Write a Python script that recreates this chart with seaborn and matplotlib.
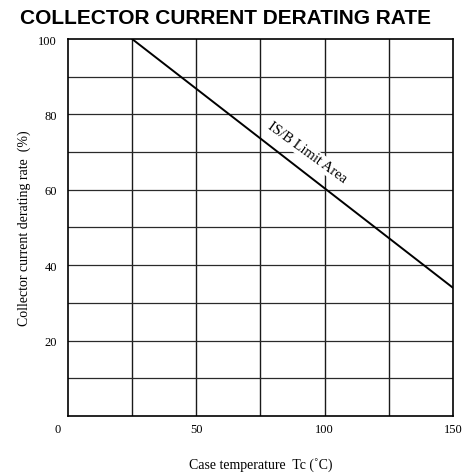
import matplotlib
matplotlib.use("Agg")
import matplotlib.pyplot as plt
import matplotlib.transforms as mtransforms
import seaborn as sns
import pandas as pd

temps = [25, 150]
rates = [100, 34]
x_ticks = [0, 50, 100, 150]
y_ticks = [20, 40, 60, 80, 100]

sns.set_theme(style="white")
plt.rcParams['font.family'] = ['Liberation Serif', 'DejaVu Serif']
plt.rcParams['text.color'] = 'black'
plt.rcParams['axes.labelcolor'] = 'black'
plt.rcParams['xtick.color'] = 'black'
plt.rcParams['ytick.color'] = 'black'

df = pd.DataFrame({"Tc": temps, "rate": rates})

fig = plt.figure(figsize=(4.66, 4.77), dpi=100)
ax = fig.add_axes([0.146, 0.126, 0.826, 0.790])

for gx in range(25, 150, 25):
    ax.axvline(gx, color="#1a1a1a", lw=1.0, zorder=1)
for gy in range(10, 100, 10):
    ax.axhline(gy, color="#2a2a2a", lw=0.9, zorder=1)

sns.lineplot(data=df, x="Tc", y="rate", ax=ax, color="black", lw=1.4, zorder=3)

ax.set_xlim(0, 150)
ax.set_ylim(0, 100)
ax.set_xticks(x_ticks)
ax.set_yticks(y_ticks)
ax.set_xticklabels([str(v) for v in x_ticks], fontsize=9)
ax.set_yticklabels([str(v) for v in y_ticks], fontsize=9)
ax.tick_params(axis="x", length=0, pad=5)
ax.tick_params(axis="y", length=0, pad=8)
lbl0 = ax.get_xticklabels()[0]
lbl0.set_transform(lbl0.get_transform() + mtransforms.ScaledTranslation(-10/100, 0, fig.dpi_scale_trans))
for s in ax.spines.values():
    s.set_color("black")
    s.set_linewidth(1.2)

ax.set_xlabel("Case temperature  Tc (\u02daC)", fontsize=10, labelpad=16)
ax.set_ylabel("Collector current derating rate  (%)", fontsize=10, labelpad=5)

ax.text(93, 70, "IS/B Limit Area", rotation=-36, rotation_mode="anchor",
        ha="center", va="center", fontsize=10.5, zorder=4,
        bbox=dict(facecolor="white", edgecolor="none", pad=1))

fig.text(0.483, 0.962, "COLLECTOR CURRENT DERATING RATE", ha="center", va="center",
         fontsize=15, fontweight="bold", family=["Liberation Sans", "DejaVu Sans"])

fig.savefig("out.png", dpi=100)
